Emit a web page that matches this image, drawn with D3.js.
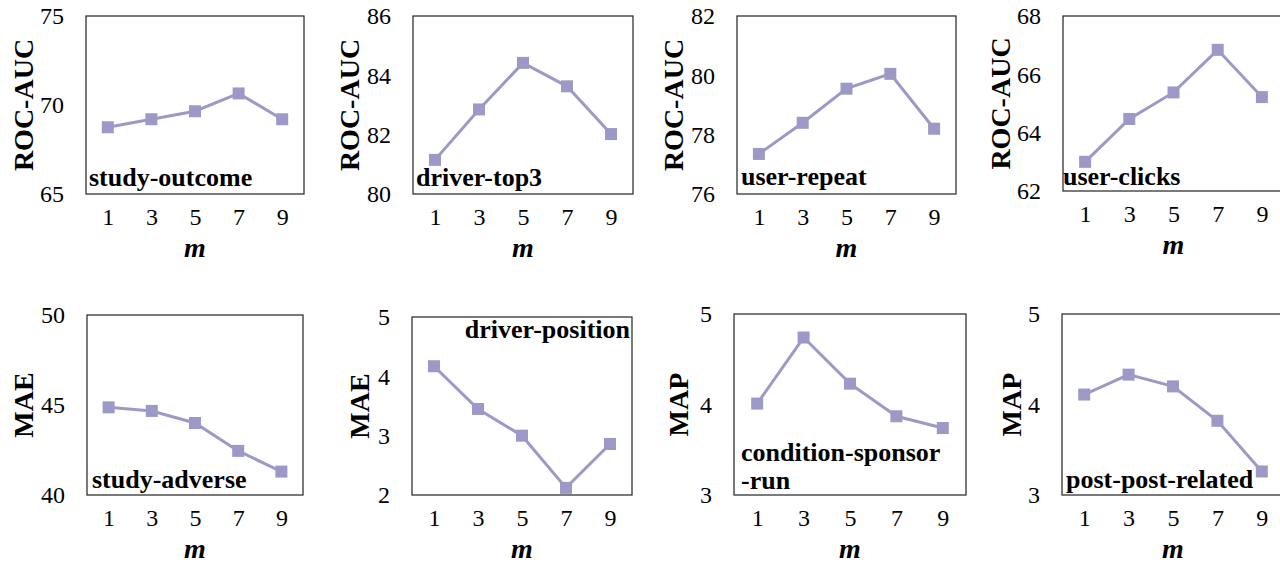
<!DOCTYPE html>
<html>
<head>
<meta charset="utf-8">
<script src="https://cdn.jsdelivr.net/npm/d3@7"></script>
<style>
  body { margin: 0; background: #fff; }
</style>
</head>
<body>
<svg width="1280" height="563"></svg>
<script>
// m values on the x axis
var mValues = ["1", "3", "5", "7", "9"];

// one series per panel
var studyOutcome = [68.75, 69.2, 69.65, 70.65, 69.2];
var driverTop3 = [81.15, 82.85, 84.42, 83.63, 82.02];
var userRepeat = [77.35, 78.4, 79.55, 80.05, 78.2];
var userClicks = [63.0, 64.47, 65.38, 66.84, 65.22];
var studyAdverse = [44.87, 44.67, 44.0, 42.45, 41.3];
var driverPosition = [4.17, 3.45, 3.0, 2.12, 2.86];
var conditionSponsorRun = [4.01, 4.74, 4.23, 3.87, 3.74];
var postPostRelated = [4.11, 4.33, 4.2, 3.82, 3.26];

// y ticks per panel
var ticksStudyOutcome = [65, 70, 75];
var ticksDriverTop3 = [80, 82, 84, 86];
var ticksUserRepeat = [76, 78, 80, 82];
var ticksUserClicks = [62, 64, 66, 68];
var ticksStudyAdverse = [40, 45, 50];
var ticksDriverPosition = [2, 3, 4, 5];
var ticksConditionSponsor = [3, 4, 5];
var ticksPostPost = [3, 4, 5];

var metricNames = ["ROC-AUC", "ROC-AUC", "ROC-AUC", "ROC-AUC", "MAE", "MAE", "MAP", "MAP"];
var taskNames = [["study-outcome"], ["driver-top3"], ["user-repeat"], ["user-clicks"],
                 ["study-adverse"], ["driver-position"], ["condition-sponsor", "-run"], ["post-post-related"]];

var panels = [
  {values: studyOutcome, ticks: ticksStudyOutcome},
  {values: driverTop3, ticks: ticksDriverTop3},
  {values: userRepeat, ticks: ticksUserRepeat},
  {values: userClicks, ticks: ticksUserClicks},
  {values: studyAdverse, ticks: ticksStudyAdverse},
  {values: driverPosition, ticks: ticksDriverPosition},
  {values: conditionSponsorRun, ticks: ticksConditionSponsor},
  {values: postPostRelated, ticks: ticksPostPost}
];

// frame boxes and label placement (pixels)
var layout = [
  {l: 86, r: 304, t: 16, b: 194, titleDx: 63, lab: {x: 89, y: 186, anchor: "start"}},
  {l: 413, r: 633, t: 16, b: 194, titleDx: 64, lab: {x: 416, y: 186, anchor: "start"}},
  {l: 737, r: 956, t: 16, b: 194, titleDx: 64, lab: {x: 741, y: 185, anchor: "start"}},
  {l: 1063, r: 1284, t: 16, b: 191, titleDx: 63, lab: {x: 1063, y: 185, anchor: "start"}},
  {l: 87, r: 303, t: 315, b: 495, titleDx: 64, lab: {x: 92, y: 488, anchor: "start"}},
  {l: 412, r: 632, t: 317, b: 495, titleDx: 53, lab: {x: 630, y: 338, anchor: "end"}},
  {l: 734, r: 966, t: 314, b: 495, titleDx: 56, lab: {x: 741, y: 461, anchor: "start"}},
  {l: 1062, r: 1284, t: 314, b: 495, titleDx: 51, lab: {x: 1066, y: 488, anchor: "start"}}
];

var serif = "'Liberation Serif', 'Times New Roman', serif";
var lineColor = "#9d99c7";
var svg = d3.select("svg");

panels.forEach(function(p, i) {
  var box = layout[i];

  var xScale = d3.scalePoint().domain(mValues).range([box.l, box.r]).padding(0.5);
  var yScale = d3.scaleLinear()
      .domain([p.ticks[0], p.ticks[p.ticks.length - 1]])
      .range([box.b, box.t]);

  var g = svg.append("g");

  // frame
  g.append("rect")
    .attr("x", box.l).attr("y", box.t)
    .attr("width", box.r - box.l).attr("height", box.b - box.t)
    .attr("fill", "none").attr("stroke", "#222").attr("stroke-width", 1.2);

  // y axis (labels only)
  var yAxis = g.append("g")
    .attr("transform", "translate(" + box.l + ",0)")
    .call(d3.axisLeft(yScale).tickValues(p.ticks).tickFormat(d3.format("d")).tickSize(0).tickPadding(22));
  yAxis.select(".domain").remove();
  yAxis.attr("font-family", null).attr("font-size", null);
  yAxis.selectAll("text")
    .style("font-family", serif)
    .style("font-size", "24px")
    .attr("fill", "#000");

  // x axis (labels only)
  var xAxis = g.append("g")
    .attr("transform", "translate(0," + box.b + ")")
    .call(d3.axisBottom(xScale).tickSize(0).tickPadding(14));
  xAxis.select(".domain").remove();
  xAxis.attr("font-family", null).attr("font-size", null);
  xAxis.selectAll("text")
    .style("font-family", serif)
    .style("font-size", "24px")
    .attr("fill", "#000");

  // axis titles
  g.append("text")
    .attr("transform", "translate(" + (box.l - box.titleDx) + "," + ((box.t + box.b) / 2) + ") rotate(-90)")
    .attr("text-anchor", "middle")
    .attr("dy", "0.35em")
    .style("font-family", serif)
    .style("font-size", "28px")
    .style("font-weight", "bold")
    .text(metricNames[i]);

  g.append("text")
    .attr("x", (xScale(mValues[0]) + xScale(mValues[mValues.length - 1])) / 2)
    .attr("y", box.b + 63)
    .attr("text-anchor", "middle")
    .style("font-family", serif)
    .style("font-size", "28px")
    .style("font-weight", "bold")
    .style("font-style", "italic")
    .text("m");

  // line + square markers
  var line = d3.line()
    .x(function(d, j) { return xScale(mValues[j]); })
    .y(function(d) { return yScale(d); });

  g.append("path")
    .datum(p.values)
    .attr("d", line)
    .attr("fill", "none")
    .attr("stroke", lineColor)
    .attr("stroke-width", 3);

  g.selectAll(".marker")
    .data(p.values)
    .enter().append("rect")
    .attr("class", "marker")
    .attr("x", function(d, j) { return xScale(mValues[j]) - 6; })
    .attr("y", function(d) { return yScale(d) - 6; })
    .attr("width", 12)
    .attr("height", 12)
    .attr("fill", lineColor);

  // dataset label
  taskNames[i].forEach(function(t, k) {
    g.append("text")
      .attr("x", box.lab.x)
      .attr("y", box.lab.y + k * 27.5)
      .attr("text-anchor", box.lab.anchor)
      .style("font-family", serif)
      .style("font-size", "26px")
      .style("font-weight", "bold")
      .text(t);
  });
});
</script>
</body>
</html>
